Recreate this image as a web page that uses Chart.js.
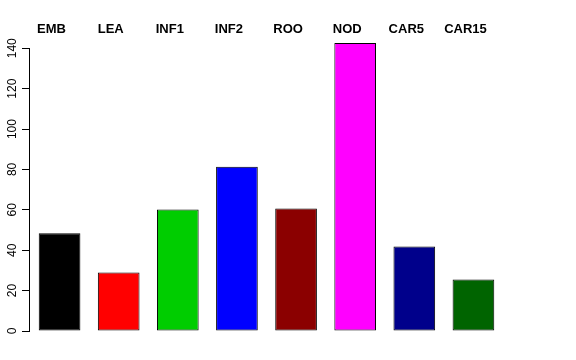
<!DOCTYPE html>
<html>
<head>
<meta charset="utf-8">
<script src="https://cdn.jsdelivr.net/npm/chart.js@4/dist/chart.umd.min.js"></script>
<style>
html,body{margin:0;padding:0;background:#fff;}
#wrap{width:576px;height:360px;position:relative;}
</style>
</head>
<body>
<div id="wrap"><canvas id="c" width="576" height="360"></canvas></div>
<script>
const categories = ["EMB","LEA","INF1","INF2","ROO","NOD","CAR5","CAR15"];
const values = [48.4, 29.0, 60.2, 81.3, 60.6, 142.6, 41.8, 25.5];
const barColors = ["#000000","#FF0000","#00CD00","#0000FF","#8B0000","#FF00FF","#00008B","#006400"];
const yTicks = [0,20,40,60,80,100,120,140];

const axisLine = {
  id: 'axisLine',
  afterDraw(chart){
    const y = chart.scales.y;
    const ctx = chart.ctx;
    const x = Math.round(chart.chartArea.left) - 0.5;
    ctx.save();
    ctx.strokeStyle = '#000';
    ctx.lineWidth = 1;
    ctx.beginPath();
    ctx.moveTo(x, Math.round(y.getPixelForValue(yTicks[0])) + 0.5);
    ctx.lineTo(x, Math.round(y.getPixelForValue(yTicks[yTicks.length-1])) + 0.5);
    ctx.stroke();
    ctx.restore();
  }
};

new Chart(document.getElementById('c'), {
  type: 'bar',
  data: {
    labels: categories,
    datasets: [{
      data: values,
      backgroundColor: barColors,
      borderColor: '#000',
      borderWidth: 1,
      borderSkipped: false,
      barPercentage: 0.705,
      categoryPercentage: 1
    }]
  },
  options: {
    responsive: false,
    animation: false,
    devicePixelRatio: 1,
    layout: { padding: { top: 20, bottom: 29, left: 0, right: 73 } },
    plugins: { legend: { display: false }, tooltip: { enabled: false } },
    scales: {
      x: {
        position: 'top',
        grid: { display: false, drawTicks: false },
        border: { display: false },
        ticks: {
          color: '#000',
          font: { family: 'Liberation Sans, Arial, sans-serif', size: 13, weight: 'bold' },
          padding: 2,
          labelOffset: -8,
          maxRotation: 0,
          autoSkip: false
        }
      },
      y: {
        min: 0,
        max: 144.3,
        afterFit(s){ s.width = 30; },
        afterBuildTicks(s){ s.ticks = yTicks.map(v => ({value: v})); },
        border: { display: false },
        grid: { drawOnChartArea: false, drawTicks: true, tickLength: 8, color: '#000', tickColor: '#000' },
        ticks: {
          color: '#000',
          font: { family: 'Liberation Sans, Arial, sans-serif', size: 12 },
          minRotation: 90,
          maxRotation: 90,
          crossAlign: 'center',
          padding: -1,
          includeBounds: false
        }
      }
    }
  },
  plugins: [axisLine]
});
</script>
</body>
</html>
